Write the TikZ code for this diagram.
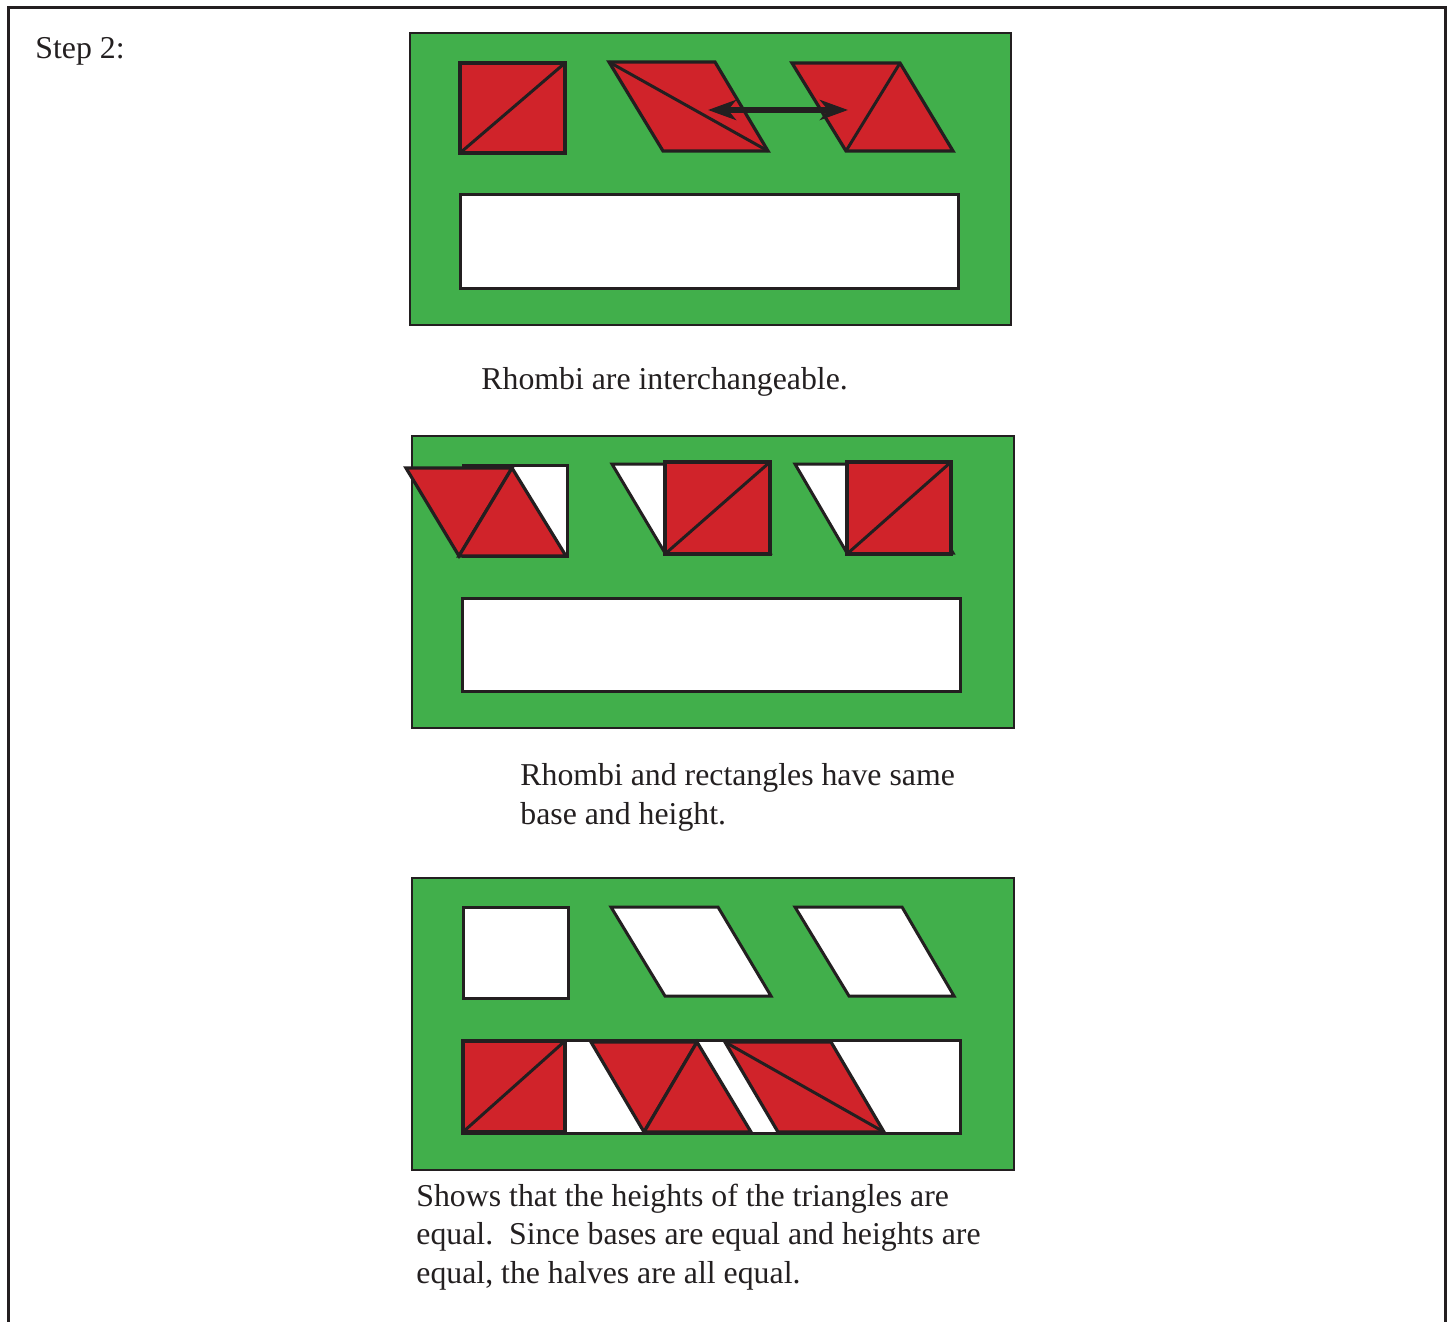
\documentclass[tikz,border=0pt]{standalone}
\usepackage{fontspec}
\setmainfont{Liberation Serif}
\usetikzlibrary{arrows.meta}
\definecolor{boardgreen}{RGB}{65,175,75}
\definecolor{piecered}{RGB}{208,35,42}
\definecolor{ink}{RGB}{35,31,32}
\tikzset{
  board/.style={fill=boardgreen,draw=ink,line width=1.25pt},
  slot/.style={fill=white,draw=ink,line width=1.5pt,line join=miter},
  piece/.style={fill=piecered,draw=ink,line width=1.6pt,line join=miter},
  cut/.style={draw=ink,line width=1.5pt},
  frameline/.style={draw=ink,line width=1.5pt},
  caption/.style={anchor=base west,inner sep=0pt,align=left,font=\fontsize{15.9}{19.25}\selectfont,text=ink},
  swap/.style={draw=ink,line width=2.6pt,{Stealth[length=14pt,width=10pt,inset=4pt]}-{Stealth[length=14pt,width=10pt,inset=4pt]}}
}
\begin{document}
\begin{tikzpicture}[x=0.5pt,y=-0.5pt]
\useasboundingbox (0,0) rectangle (1453,1322);
% outer frame (open at bottom)
\draw[frameline] (8,1322) -- (8,8) -- (1445,8) -- (1445,1322);
\node[caption] (step) at (35,59) {Step 2:};

% ---------- Panel 1 ----------
\draw[board] (410,33) rectangle (1011,325);
\draw[slot] (460,195) rectangle (958,288);
\draw[piece] (460,63) rectangle (565,153);
\draw[cut] (460,153) -- (565,63);
\draw[piece] (609,62) -- (715,62) -- (768,151) -- (663,151) -- cycle;
\draw[cut] (609,62) -- (768,151);
\draw[piece] (792,63) -- (900,63) -- (953,151) -- (846,151) -- cycle;
\draw[cut] (900,63) -- (846,151);
\coordinate (swapL) at (708,110);
\coordinate (swapR) at (848,110);
\draw[swap] (swapL) -- (swapR);
\node[caption] (cap1) at (481,389) {Rhombi are interchangeable.};

% ---------- Panel 2 ----------
\draw[board] (412,436) rectangle (1014,728);
\draw[slot] (462,598) rectangle (960,691);
% slot 1: square slot with rhombus on top
\draw[slot] (463,465) rectangle (567,556);
\draw[piece] (406,468) -- (512,468) -- (459,556) -- cycle;
\draw[piece] (459,556) -- (512,468) -- (566,556) -- cycle;
% slot 2: rhombus slot with square on top
\draw[slot] (612,464) -- (718,464) -- (770,553) -- (665,553) -- cycle;
\draw[piece] (665,462) rectangle (770,554);
\draw[cut] (665,554) -- (770,462);
% slot 3
\draw[slot] (795,464) -- (901,464) -- (953,553) -- (847,553) -- cycle;
\draw[piece] (847,462) rectangle (951,554);
\draw[cut] (847,554) -- (951,462);
\node[caption] (cap2) at (520,824) {Rhombi and rectangles have same\\base and height.};

% ---------- Panel 3 ----------
\draw[board] (412,878) rectangle (1014,1170);
\draw[slot] (463,907) rectangle (568,998);
\draw[slot] (611,907) -- (718,907) -- (771,996) -- (665,996) -- cycle;
\draw[slot] (795,907) -- (902,907) -- (954,996) -- (849,996) -- cycle;
\draw[slot] (462,1040) rectangle (960,1133);
\draw[piece] (463,1041) rectangle (565,1132);
\draw[cut] (463,1132) -- (565,1041);
\draw[piece] (591,1042) -- (697,1042) -- (644,1132) -- cycle;
\draw[piece] (644,1132) -- (697,1042) -- (751,1132) -- cycle;
\draw[piece] (725,1042) -- (831,1042) -- (884,1132) -- (778,1132) -- cycle;
\draw[cut] (725,1042) -- (884,1132);
\node[caption] (cap3) at (416,1283) {Shows that the heights of the triangles are\\equal.\ \ Since bases are equal and heights are\\equal, the halves are all equal.};
\end{tikzpicture}
\end{document}
